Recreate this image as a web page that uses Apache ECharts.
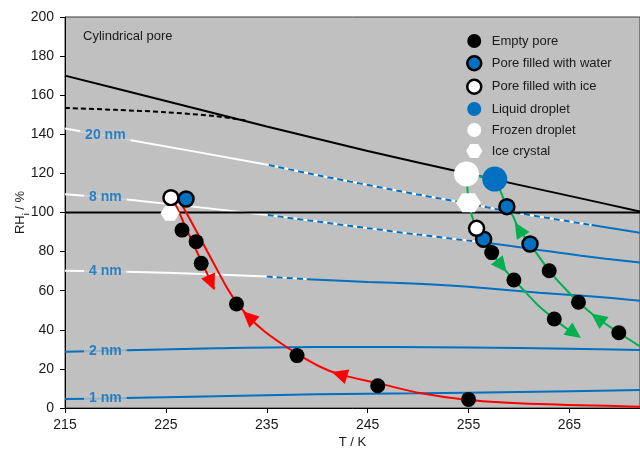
<!DOCTYPE html>
<html><head><meta charset="utf-8">
<script src="https://cdn.jsdelivr.net/npm/echarts@6/dist/echarts.min.js"></script>
<style>html,body{margin:0;padding:0;background:#fff}#c{width:640px;height:451px}</style>
</head><body><div id="c"></div>
<script>
// ---------------- data ----------------
const xTicks = [215, 225, 235, 245, 255, 265];
const xMax = 272;
const yTicks = [0, 20, 40, 60, 80, 100, 120, 140, 160, 180, 200];

// water saturation expressed as RH over ice (solid black)
const waterSatT  = [215, 225, 235, 245, 255, 265, 272];
const waterSatRH = [170, 157, 144, 131.5, 119.8, 108.5, 100.5];
// dashed black line
const dashT  = [215, 220, 225, 230, 233];
const dashRH = [153.5, 152.5, 151.3, 149.2, 147];
// ice saturation
const iceSatT  = [215, 272];
const iceSatRH = [100, 100];

// pore-size curves
const p20T  = [215, 219, 221.4, 235.2, 240.3, 250.3, 254.9, 259, 267.2, 272];
const p20RH = [143, 139.4, 137.1, 124.3, 118.8, 108.9, 104.7, 100.5, 93.6, 89.6];
const p8T   = [215, 219, 220.7, 235.1, 245, 250, 256, 261, 266, 272];
const p8RH  = [109.3, 107.8, 106.9, 98.7, 92, 88.7, 85, 81.6, 78, 74.4];
const p4T   = [215, 219, 225, 235, 239, 245, 250, 255, 262, 267, 272];
const p4RH  = [70.2, 69.9, 69.2, 67.2, 65.9, 64.5, 63.5, 62, 59, 57.2, 54.9];
const p2T   = [215, 219, 230, 240, 255, 265, 272];
const p2RH  = [28.8, 29.3, 30.5, 31.2, 31, 30.3, 29.7];
const p1T   = [215, 219, 225, 240, 250, 260, 272];
const p1RH  = [4.6, 4.9, 5.5, 7.0, 7.5, 8.2, 9.2];
const poreNames = ['20 nm', '8 nm', '4 nm', '2 nm', '1 nm'];
const dashStartT = [235.2, 235.1, 235, null, null];   // white -> dashed
const dashEndT   = [267.2, 256, 239, null, null];     // dashed -> blue
const labelT = 219;

// measured states
const emptyT  = [226.6, 228.0, 228.5, 232.0, 238.0, 246.0, 255.0, 257.3, 259.5, 263.5, 263.0, 265.9, 269.9];
const emptyRH = [91.0, 85.1, 74.0, 53.2, 26.8, 11.4, 4.4, 79.5, 65.5, 45.5, 70.2, 54.1, 38.5];
const waterT  = [227.0, 258.8, 256.5, 261.1];
const waterRH = [106.9, 103.0, 86.3, 83.9];
const iceT    = [225.5, 255.8];
const iceRH   = [107.6, 91.9];
const liqT    = [257.6];
const liqRH   = [117.1];
const frzT    = [254.8];
const frzRH   = [119.7];
const xtalT   = [225.4, 255.0];
const xtalRH  = [99.6, 105.0];

// paths
const redMainT  = [226.4, 227.6, 228.8, 230.0, 231.0, 231.9, 233.2, 234.7, 236.4, 238.3, 240.3, 242.2, 246.1, 250.3, 255, 262, 272];
const redMainRH = [105.7, 94.5, 83, 71.5, 62, 54.8, 46.7, 39.5, 33.1, 26.8, 21.1, 17.2, 12.6, 7.5, 4.1, 2.0, 0.7];
const redBranchT  = [225.9, 227.8, 229.8];
const redBranchRH = [104.8, 83, 61];
const green1T  = [254.8, 254.9, 255.0, 255.4, 255.8, 256.5, 257.3, 258.3, 259.5, 260.7, 262, 263.5, 264.5, 265.5];
const green1RH = [119.7, 112, 105, 97.3, 91.9, 86.3, 79.5, 72.6, 65.5, 59, 52, 45.5, 41.5, 38.2];
const green2T  = [257.6, 258.2, 258.8, 259.4, 260.0, 261.1, 263.0, 264.5, 265.9, 267.8, 269.9, 272];
const green2RH = [117.1, 110.5, 103.0, 98.2, 91.5, 83.9, 70.2, 61.5, 54.1, 45.9, 38.5, 31.5];
// arrow heads
const redArrowT  = [233.2, 242.2, 229.5];
const redArrowRH = [46.7, 17.2, 64];
const redArrowRot = [47.5, 73, -156.5];
const greenArrowT  = [258.3, 265.5, 260.0, 267.8];
const greenArrowRH = [72.6, 38.2, 91.5, 45.9];
const greenArrowRot = [-141.6, -126, 31.9, 53];

// ---------------- chart ----------------
const zip = (T, R) => T.map((t, i) => [t, R[i]]);
const FONT = 'Liberation Sans, Arial, sans-serif';
const BLUE = '#0070c0', RED = '#ff0000', GREEN = '#00b050', BG = '#c0c0c0';
const hexPath = 'path://M0,43.3L25,0L75,0L100,43.3L75,86.6L25,86.6Z';

const series = [];
const poreT = [p20T, p8T, p4T, p2T, p1T];
const poreRH = [p20RH, p8RH, p4RH, p2RH, p1RH];

const lineS = (data, color, z, type) => ({type: 'line', data, smooth: 0.3, showSymbol: false, symbol: 'none',
  silent: true, z, lineStyle: {width: 2, color, opacity: 1, type: type || 'solid'}});

poreNames.forEach((nm, k) => {
  const data = zip(poreT[k], poreRH[k]);
  if (dashEndT[k] !== null) {
    const a = dashStartT[k], b = dashEndT[k];
    series.push(lineS(data.filter(d => d[0] <= b), '#ffffff', 2));
    series.push(lineS(data.filter(d => d[0] >= a && d[0] <= b), BLUE, 3, [6, 4]));
    series.push(lineS(data.filter(d => d[0] >= b), BLUE, 2));
  } else {
    series.push(lineS(data, BLUE, 2));
  }
});

// black lines
series.push(lineS(zip(waterSatT, waterSatRH), '#000', 4));
series.push(lineS(zip(dashT, dashRH), '#000', 4, [5, 3]));
series.push(lineS(zip(iceSatT, iceSatRH), '#000', 4));

// paths
series.push(lineS(zip(redMainT, redMainRH), RED, 5));
series.push(lineS(zip(redBranchT, redBranchRH), RED, 5));
series.push(lineS(zip(green1T, green1RH), GREEN, 5));
series.push(lineS(zip(green2T, green2RH), GREEN, 5));
series.push(lineS([[frzT[0], frzRH[0]], [liqT[0], liqRH[0]]], GREEN, 5));

// arrows
const arrows = (T, R, rot, c) => ({type: 'scatter', silent: true, z: 6, symbol: 'triangle', symbolSize: [15, 16],
  itemStyle: {color: c, opacity: 1}, data: T.map((t, i) => ({value: [t, R[i]], symbolRotate: rot[i]}))});
series.push(arrows(redArrowT, redArrowRH, redArrowRot, RED));
series.push(arrows(greenArrowT, greenArrowRH, greenArrowRot, GREEN));

// pore-size labels
poreNames.forEach((nm, k) => {
  const i = poreT[k].indexOf(labelT);
  series.push({type: 'scatter', silent: true, z: 7, symbolSize: 1, itemStyle: {color: 'rgba(0,0,0,0)'},
    data: [[poreT[k][i], poreRH[k][i]]],
    label: {show: true, position: 'inside', formatter: nm, color: BLUE, fontWeight: 'bold', fontSize: 14,
      fontFamily: FONT, backgroundColor: BG, padding: [1, 5]}});
});

// marker series
const marker = (name, T, R, symbol, size, style) => ({name, type: 'scatter', z: 10, symbol, symbolSize: size,
  symbolKeepAspect: true, itemStyle: Object.assign({opacity: 1}, style), data: zip(T, R)});
series.push(marker('Empty pore', emptyT, emptyRH, 'circle', 15, {color: '#000'}));
series.push(marker('Pore filled with water', waterT, waterRH, 'circle', 15, {color: BLUE, borderColor: '#000', borderWidth: 2.5}));
series.push(marker('Pore filled with ice', iceT, iceRH, 'circle', 15, {color: '#fff', borderColor: '#000', borderWidth: 2.5}));
series.push(marker('Liquid droplet', liqT, liqRH, 'circle', 25, {color: BLUE}));
series.push(marker('Frozen droplet', frzT, frzRH, 'circle', 25, {color: '#fff'}));
series.push(marker('Ice crystal', xtalT, xtalRH, hexPath, (v, p) => p.dataIndex === 0 ? [19, 17] : [25, 22], {color: '#fff'}));

const option = {
  animation: false,
  textStyle: {fontFamily: FONT},
  title: {text: 'Cylindrical pore', left: 78, top: 25,
    textStyle: {fontSize: 13, fontWeight: 'normal', color: '#1a1a1a', fontFamily: FONT}},
  legend: {orient: 'vertical', left: 461, top: 29, itemWidth: 25, itemHeight: 14, itemGap: 7,
    selectedMode: false,
    textStyle: {fontSize: 13, color: '#1a1a1a', fontFamily: FONT},
    data: [
      {name: 'Empty pore', icon: 'circle', itemStyle: {color: '#000', opacity: 1}},
      {name: 'Pore filled with water', icon: 'circle', itemStyle: {color: BLUE, borderColor: '#000', borderWidth: 2.5, opacity: 1}},
      {name: 'Pore filled with ice', icon: 'circle', itemStyle: {color: '#fff', borderColor: '#000', borderWidth: 2.5, opacity: 1}},
      {name: 'Liquid droplet', icon: 'circle', itemStyle: {color: BLUE, opacity: 1}},
      {name: 'Frozen droplet', icon: 'circle', itemStyle: {color: '#fff', opacity: 1}},
      {name: 'Ice crystal', icon: hexPath, itemStyle: {color: '#fff', opacity: 1}}
    ]},
  grid: {left: 65, right: 0, top: 17, bottom: 43, show: true, backgroundColor: BG,
    borderColor: '#3a3a3a', borderWidth: 1, containLabel: false, outerBoundsMode: 'none'},
  xAxis: {type: 'value', min: xTicks[0], max: xMax, interval: xTicks[1] - xTicks[0],
    name: 'T / K', nameLocation: 'middle', nameGap: 28, nameMoveOverlap: false,
    nameTextStyle: {fontSize: 13, color: '#1a1a1a', fontFamily: FONT},
    axisLine: {show: true, onZero: false, lineStyle: {color: '#000', width: 1}},
    axisTick: {show: true, length: 5, lineStyle: {color: '#000'}},
    axisLabel: {fontSize: 14, color: '#1a1a1a', margin: 10, showMaxLabel: false, fontFamily: FONT},
    splitLine: {show: false}},
  yAxis: {type: 'value', min: yTicks[0], max: yTicks[yTicks.length - 1], interval: yTicks[1] - yTicks[0],
    name: 'RH{sub|i} / %', nameLocation: 'middle', nameGap: 38, nameRotate: 90, nameMoveOverlap: false,
    nameTextStyle: {fontSize: 13, color: '#1a1a1a', fontFamily: FONT,
      rich: {sub: {fontSize: 9, color: '#1a1a1a', fontFamily: FONT, verticalAlign: 'bottom', padding: [0, 0, -4, 0]}}},
    axisLine: {show: true, onZero: false, lineStyle: {color: '#000', width: 1}},
    axisTick: {show: true, length: 5, lineStyle: {color: '#000'}},
    axisLabel: {fontSize: 14, color: '#1a1a1a', margin: 11, fontFamily: FONT},
    splitLine: {show: false}},
  series
};
const chart = echarts.init(document.getElementById('c'), null, {renderer: 'canvas'});
chart.setOption(option);
</script>
</body></html>
